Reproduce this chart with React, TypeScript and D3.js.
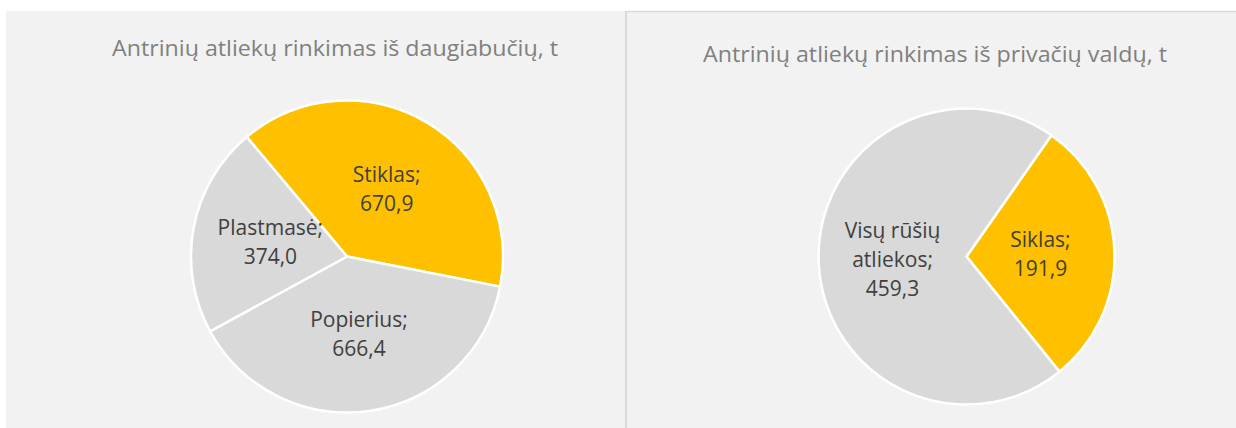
import React from "react";
import * as d3 from "d3";

const leftTitle = "Antrinių atliekų rinkimas iš daugiabučių, t";
const rightTitle = "Antrinių atliekų rinkimas iš privačių valdų, t";

const leftCategories = ["Stiklas", "Popierius", "Plastmasė"];
const leftValues = [670.9, 666.4, 374.0];
const leftColors = ["#FFC000", "#D9D9D9", "#D9D9D9"];

const rightCategories = ["Siklas", "Visų rūšių atliekos"];
const rightValues = [191.9, 459.3];
const rightColors = ["#FFC000", "#D9D9D9"];

const FONT = "'Open Sans', Lato, sans-serif";

type PieProps = {
  cx: number;
  cy: number;
  r: number;
  startDeg: number;
  cats: string[];
  vals: number[];
  colors: string[];
  labelLines: string[][];
};

function fmt(v: number) {
  return d3.format(".1f")(v).replace(".", ",");
}

function Pie({ cx, cy, r, startDeg, cats, vals, colors, labelLines }: PieProps) {
  const start = (startDeg * Math.PI) / 180;
  const pie = d3
    .pie<number>()
    .sort(null)
    .startAngle(start)
    .endAngle(start + 2 * Math.PI);
  const arcs = pie(vals);
  const arc = d3.arc<d3.PieArcDatum<number>>().innerRadius(0).outerRadius(r);
  const lh = 29;
  return (
    <g transform={`translate(${cx},${cy})`}>
      {arcs.map((a, i) => (
        <path
          key={cats[i]}
          d={arc(a) || ""}
          fill={colors[i]}
          stroke="#FFFFFF"
          strokeWidth={2.5}
          strokeLinejoin="round"
        />
      ))}
      {arcs.map((a, i) => {
        const [x, y] = arc.centroid(a);
        const lines = [...labelLines[i], fmt(vals[i])];
        const y0 = y - ((lines.length - 1) * lh) / 2;
        return (
          <text
            key={"l" + i}
            x={x}
            textAnchor="middle"
            fontFamily={FONT}
            fontSize={21}
            fill="#404040"
          >
            {lines.map((ln, j) => (
              <tspan key={j} x={x} y={y0 + j * lh} dy="0.36em">
                {ln}
              </tspan>
            ))}
          </text>
        );
      })}
    </g>
  );
}

export default function App() {
  return (
    <svg
      width={1236}
      height={428}
      style={{ position: "absolute", left: 0, top: 0, display: "block" }}
    >
      <rect x={0} y={0} width={1236} height={428} fill="#FFFFFF" />
      <rect x={6} y={11} width={620} height={417} fill="#F2F2F2" />
      <rect x={627} y={11} width={609} height={417} fill="#F2F2F2" />
      <line x1={627} y1={11.5} x2={1236} y2={11.5} stroke="#D9D9D9" strokeWidth={1.5} />
      <line x1={626} y1={11} x2={626} y2={428} stroke="#D9D9D9" strokeWidth={2} />

      <text
        x={335}
        y={56}
        textAnchor="middle"
        fontFamily={FONT}
        fontSize={22}
        fill="#808080"
        textLength={446}
        lengthAdjust="spacingAndGlyphs"
      >
        {leftTitle}
      </text>
      <text
        x={935}
        y={61.5}
        textAnchor="middle"
        fontFamily={FONT}
        fontSize={22}
        fill="#808080"
        textLength={464}
        lengthAdjust="spacingAndGlyphs"
      >
        {rightTitle}
      </text>

      <Pie
        cx={347}
        cy={256.5}
        r={156}
        startDeg={-40}
        cats={leftCategories}
        vals={leftValues}
        colors={leftColors}
        labelLines={[["Stiklas;"], ["Popierius;"], ["Plastmasė;"]]}
      />
      <Pie
        cx={966.5}
        cy={256.5}
        r={148}
        startDeg={35}
        cats={rightCategories}
        vals={rightValues}
        colors={rightColors}
        labelLines={[["Siklas;"], ["Visų rūšių", "atliekos;"]]}
      />
    </svg>
  );
}
